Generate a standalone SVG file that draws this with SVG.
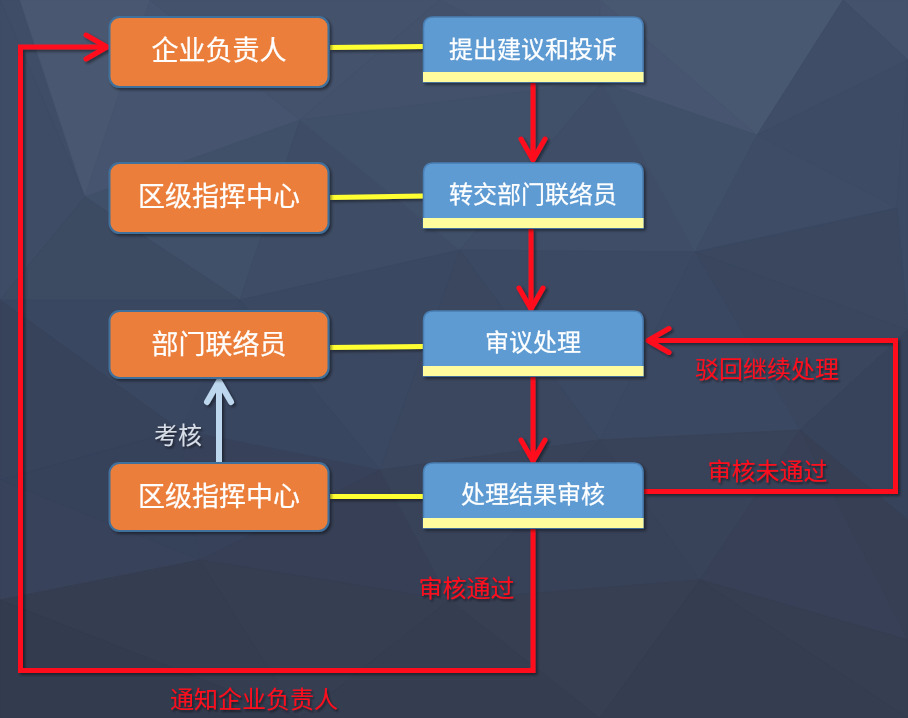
<svg xmlns="http://www.w3.org/2000/svg" width="908" height="718" viewBox="0 0 908 718">
<style>
.bg polygon{stroke-width:0.8;stroke-linejoin:round}
.orange{fill:#EB7E3B;stroke:#41719C;stroke-width:2}
.blue{fill:#5E9BD3;stroke:#4A7FB3;stroke-width:1.5}
.strip{fill:#FFFC9E}
.ntxt{font-family:"Noto Sans CJK SC","Noto Sans",sans-serif;fill:#FFFFFF;stroke:#FFFFFF;stroke-width:0.25;text-anchor:middle;font-weight:normal}
.otxt{font-size:27px}
.btxt{font-size:24px}
.lbl{font-family:"Noto Sans CJK SC","Noto Sans",sans-serif;font-size:24px;text-anchor:middle;font-weight:normal}
.red{fill:#FF101E}
.gray{fill:#D8DEE7}
.yl{stroke:#FFFF33;stroke-width:5;fill:none}
.rl{stroke:#FF101E;stroke-width:5;fill:none}
</style>
<defs>
<filter id="sh" filterUnits="userSpaceOnUse" x="0" y="0" width="908" height="718">
<feDropShadow dx="2" dy="2" stdDeviation="1.5" flood-color="#000" flood-opacity="0.45"/>
</filter>
<filter id="tsh" filterUnits="userSpaceOnUse" x="0" y="0" width="908" height="718">
<feDropShadow dx="1.5" dy="2" stdDeviation="1.2" flood-color="#000" flood-opacity="0.5"/>
</filter>
<marker id="redHead" markerUnits="userSpaceOnUse" viewBox="-28 -16 32 32" refX="0" refY="0" markerWidth="32" markerHeight="32" orient="auto">
<path d="M-22,-12 L-1,0 L-22,12" fill="none" stroke="#FF101E" stroke-width="5" stroke-linecap="round" stroke-linejoin="round"/>
</marker>
<marker id="blueHead" markerUnits="userSpaceOnUse" viewBox="-28 -16 32 32" refX="0" refY="0" markerWidth="32" markerHeight="32" orient="auto">
<path d="M-22,-12 L-1,0 L-22,12" fill="none" stroke="#BDD7EE" stroke-width="6" stroke-linecap="round" stroke-linejoin="round"/>
</marker>
</defs>

<g class="bg" id="background">
<rect x="0" y="0" width="908" height="718" fill="#3B475E"/>
<polygon points="0,0 20,0 85,197" fill="#3F4D66" stroke="#3F4D66"/>
<polygon points="20,0 150,0 85,197" fill="#495770" stroke="#495770"/>
<polygon points="150,0 300,120 85,197" fill="#465470" stroke="#465470"/>
<polygon points="150,0 440,0 300,120" fill="#44526C" stroke="#44526C"/>
<polygon points="440,0 602,82 300,120" fill="#43516B" stroke="#43516B"/>
<polygon points="440,0 600,0 602,82" fill="#45536D" stroke="#45536D"/>
<polygon points="600,0 843,0 757,135" fill="#495871" stroke="#495871"/>
<polygon points="600,0 757,135 602,82" fill="#475570" stroke="#475570"/>
<polygon points="843,0 908,0 908,60" fill="#44526C" stroke="#44526C"/>
<polygon points="843,0 908,60 757,135" fill="#3F4D67" stroke="#3F4D67"/>
<polygon points="757,135 908,60 897,208" fill="#3D4B65" stroke="#3D4B65"/>
<polygon points="908,60 908,330 897,208" fill="#3C4A63" stroke="#3C4A63"/>
<polygon points="0,0 85,197 0,300" fill="#3E4C65" stroke="#3E4C65"/>
<polygon points="85,197 300,120 240,300" fill="#405068" stroke="#405068"/>
<polygon points="85,197 240,300 0,300" fill="#3C4A62" stroke="#3C4A62"/>
<polygon points="300,120 460,250 240,300" fill="#3E4C65" stroke="#3E4C65"/>
<polygon points="300,120 602,82 460,250" fill="#415069" stroke="#415069"/>
<polygon points="602,82 695,252 460,250" fill="#3F4D67" stroke="#3F4D67"/>
<polygon points="602,82 757,135 695,252" fill="#405068" stroke="#405068"/>
<polygon points="757,135 897,208 695,252" fill="#3E4C66" stroke="#3E4C66"/>
<polygon points="897,208 908,330 695,252" fill="#3A475F" stroke="#3A475F"/>
<polygon points="0,300 240,300 180,430" fill="#3A4760" stroke="#3A4760"/>
<polygon points="0,300 180,430 0,480" fill="#37435A" stroke="#37435A"/>
<polygon points="240,300 460,250 380,470" fill="#3B4861" stroke="#3B4861"/>
<polygon points="240,300 380,470 180,430" fill="#394660" stroke="#394660"/>
<polygon points="460,250 695,252 600,440" fill="#3C4962" stroke="#3C4962"/>
<polygon points="460,250 600,440 380,470" fill="#3A475F" stroke="#3A475F"/>
<polygon points="695,252 908,330 800,430" fill="#39465E" stroke="#39465E"/>
<polygon points="695,252 800,430 600,440" fill="#3B4861" stroke="#3B4861"/>
<polygon points="908,330 908,520 800,430" fill="#37435A" stroke="#37435A"/>
<polygon points="0,480 180,430 200,560" fill="#36415A" stroke="#36415A"/>
<polygon points="0,480 200,560 0,600" fill="#38425A" stroke="#38425A"/>
<polygon points="180,430 380,470 200,560" fill="#37425A" stroke="#37425A"/>
<polygon points="380,470 450,600 200,560" fill="#363F55" stroke="#363F55"/>
<polygon points="380,470 600,440 450,600" fill="#384359" stroke="#384359"/>
<polygon points="600,440 700,580 450,600" fill="#374157" stroke="#374157"/>
<polygon points="600,440 800,430 700,580" fill="#384258" stroke="#384258"/>
<polygon points="800,430 908,520 908,640" fill="#363F54" stroke="#363F54"/>
<polygon points="800,430 908,640 700,580" fill="#374056" stroke="#374056"/>
<polygon points="0,600 200,560 300,718" fill="#353D51" stroke="#353D51"/>
<polygon points="0,600 300,718 0,718" fill="#333B4E" stroke="#333B4E"/>
<polygon points="200,560 450,600 300,718" fill="#363E52" stroke="#363E52"/>
<polygon points="450,600 600,718 300,718" fill="#353D50" stroke="#353D50"/>
<polygon points="450,600 700,580 600,718" fill="#373F53" stroke="#373F53"/>
<polygon points="700,580 908,718 600,718" fill="#353D50" stroke="#353D50"/>
<polygon points="700,580 908,640 908,718" fill="#363E51" stroke="#363E51"/>
</g>

<g id="connectors">
<line class="yl" x1="330" y1="47.5" x2="423" y2="46.5" filter="url(#sh)"/>
<line class="yl" x1="330" y1="197.5" x2="423" y2="196" filter="url(#sh)"/>
<line class="yl" x1="330" y1="347.5" x2="423" y2="346.5" filter="url(#sh)"/>
<line class="yl" x1="330" y1="496.5" x2="423" y2="496.5" filter="url(#sh)"/>
<path class="rl" d="M533,83 V161" marker-end="url(#redHead)" filter="url(#sh)"/>
<path class="rl" d="M531,229 V310" marker-end="url(#redHead)" filter="url(#sh)"/>
<path class="rl" d="M533,377 V462" marker-end="url(#redHead)" filter="url(#sh)"/>
<path class="rl" d="M644,491.5 H895.5 V340.5 H647" marker-end="url(#redHead)" filter="url(#sh)"/>
<path class="rl" d="M533,529 V670.5 H20.5 V47 H108" marker-end="url(#redHead)" filter="url(#sh)"/>
<path d="M219,462 V380" fill="none" stroke="#BDD7EE" stroke-width="6" marker-end="url(#blueHead)" filter="url(#sh)"/>
<text class="lbl red" x="767" y="378" filter="url(#tsh)">驳回继续处理</text>
<text class="lbl red" x="767.5" y="480" filter="url(#tsh)">审核未通过</text>
<text class="lbl red" x="466.5" y="597" filter="url(#tsh)">审核通过</text>
<text class="lbl red" x="254" y="708" filter="url(#tsh)">通知企业负责人</text>
<text class="lbl gray" x="178" y="443.5" filter="url(#tsh)">考核</text>
</g>

<g id="node-qiye" filter="url(#sh)">
<rect class="orange" x="109.5" y="17" width="219" height="70" rx="10"/>
<text class="ntxt otxt" x="219" y="60">企业负责人</text>
</g>
<g id="node-quji1" filter="url(#sh)">
<rect class="orange" x="109.5" y="163" width="219" height="70" rx="10"/>
<text class="ntxt otxt" x="219" y="206">区级指挥中心</text>
</g>
<g id="node-bumen" filter="url(#sh)">
<rect class="orange" x="109.5" y="311" width="219" height="67" rx="10"/>
<text class="ntxt otxt" x="219" y="354">部门联络员</text>
</g>
<g id="node-quji2" filter="url(#sh)">
<rect class="orange" x="109.5" y="463" width="219" height="68" rx="10"/>
<text class="ntxt otxt" x="219" y="506">区级指挥中心</text>
</g>

<g id="node-tichu" filter="url(#sh)">
<path class="blue" d="M423.5,82 V27 Q423.5,17 433.5,17 H633 Q643,17 643,27 V82 Z"/>
<rect class="strip" x="423" y="72" width="220.5" height="10"/>
<text class="ntxt btxt" x="533" y="57.5">提出建议和投诉</text>
</g>
<g id="node-zhuanjiao" filter="url(#sh)">
<path class="blue" d="M423.5,228 V173 Q423.5,163 433.5,163 H633 Q643,163 643,173 V228 Z"/>
<rect class="strip" x="423" y="218" width="220.5" height="10"/>
<text class="ntxt btxt" x="533" y="203">转交部门联络员</text>
</g>
<g id="node-shenyi" filter="url(#sh)">
<path class="blue" d="M423.5,376 V321 Q423.5,311 433.5,311 H633 Q643,311 643,321 V376 Z"/>
<rect class="strip" x="423" y="366" width="220.5" height="10"/>
<text class="ntxt btxt" x="533" y="351">审议处理</text>
</g>
<g id="node-shenhe" filter="url(#sh)">
<path class="blue" d="M423.5,528 V473 Q423.5,463 433.5,463 H633 Q643,463 643,473 V528 Z"/>
<rect class="strip" x="423" y="518" width="220.5" height="10"/>
<text class="ntxt btxt" x="533" y="502.5">处理结果审核</text>
</g>
</svg>
